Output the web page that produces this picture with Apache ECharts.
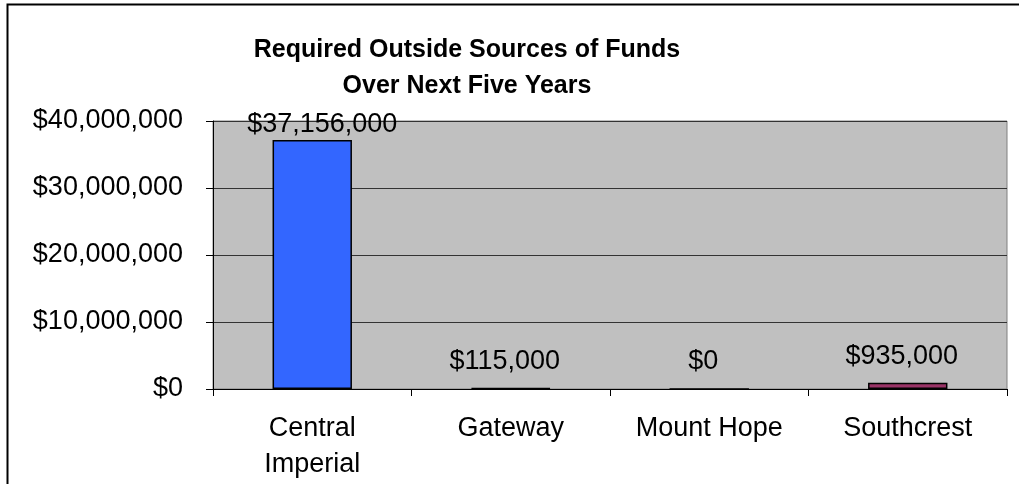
<!DOCTYPE html>
<html>
<head>
<meta charset="utf-8">
<script src="https://cdn.jsdelivr.net/npm/echarts@6/dist/echarts.min.js"></script>
<style>
  html, body { margin: 0; padding: 0; background: #fff; }
  #chart { width: 1019px; height: 484px; }
</style>
</head>
<body>
<div id="chart"></div>
<script>
// Funding needs per community, in dollars
const categories = ['Central\nImperial', 'Gateway', 'Mount Hope', 'Southcrest'];
const funds = [37156000, 115000, 0, 935000];
const barColors = ['#3366FF', '#CC3399', '#33CC66', '#993366'];
const yTicks = [0, 10000000, 20000000, 30000000, 40000000];

const money = v => '$' + Math.round(v).toString().replace(/\B(?=(\d{3})+(?!\d))/g, ',');
const FONT = 'Liberation Sans, Arial, sans-serif';

const chart = echarts.init(document.getElementById('chart'), null, { renderer: 'canvas' });

chart.setOption({
  backgroundColor: '#ffffff',
  animation: false,
  textStyle: { fontFamily: FONT },
  title: {
    text: 'Required Outside Sources of Funds\nOver Next Five Years',
    left: 462,
    top: 27,
    textAlign: 'center',
    textStyle: {
      fontFamily: FONT,
      fontSize: 25,
      fontWeight: 'bold',
      lineHeight: 36,
      color: '#000'
    }
  },
  graphic: [{
    type: 'rect',
    silent: true,
    shape: { x: 7.5, y: 4.5, width: 1100, height: 600 },
    style: { fill: 'none', stroke: '#000', lineWidth: 2 }
  }],
  grid: {
    left: 213, right: 12, top: 121, bottom: 95,
    show: true,
    backgroundColor: '#C0C0C0',
    borderColor: '#808080',
    borderWidth: 1
  },
  xAxis: {
    type: 'category',
    data: categories,
    axisLine: { show: true, lineStyle: { color: '#000', width: 1 } },
    axisTick: { show: true, alignWithLabel: false, length: 7, lineStyle: { color: '#000' } },
    axisLabel: {
      margin: 22,
      fontSize: 27,
      lineHeight: 36,
      color: '#000',
      fontFamily: FONT,
      interval: 0
    },
    splitLine: { show: false }
  },
  yAxis: {
    type: 'value',
    min: yTicks[0],
    max: yTicks[yTicks.length - 1],
    interval: yTicks[1] - yTicks[0],
    axisLine: { show: true, lineStyle: { color: '#000', width: 1 } },
    axisTick: { show: true, length: 7, lineStyle: { color: '#000' } },
    axisLabel: {
      margin: 30,
      fontSize: 27,
      color: '#000',
      fontFamily: FONT,
      formatter: v => money(v)
    },
    splitLine: { show: true, lineStyle: { color: '#333', width: 1 } }
  },
  series: [{
    type: 'bar',
    barCategoryGap: '60%',
    data: funds.map((v, i) => ({
      value: v,
      itemStyle: { color: barColors[i], borderColor: '#000', borderWidth: 1.5 },
      label: i === 0 ? { distance: 2, offset: [10, 0] } : { distance: 13, offset: [-6, 0] }
    })),
    label: {
      show: true,
      position: 'top',
      fontSize: 27,
      color: '#000',
      fontFamily: FONT,
      formatter: p => money(p.value)
    }
  }]
});
</script>
</body>
</html>
